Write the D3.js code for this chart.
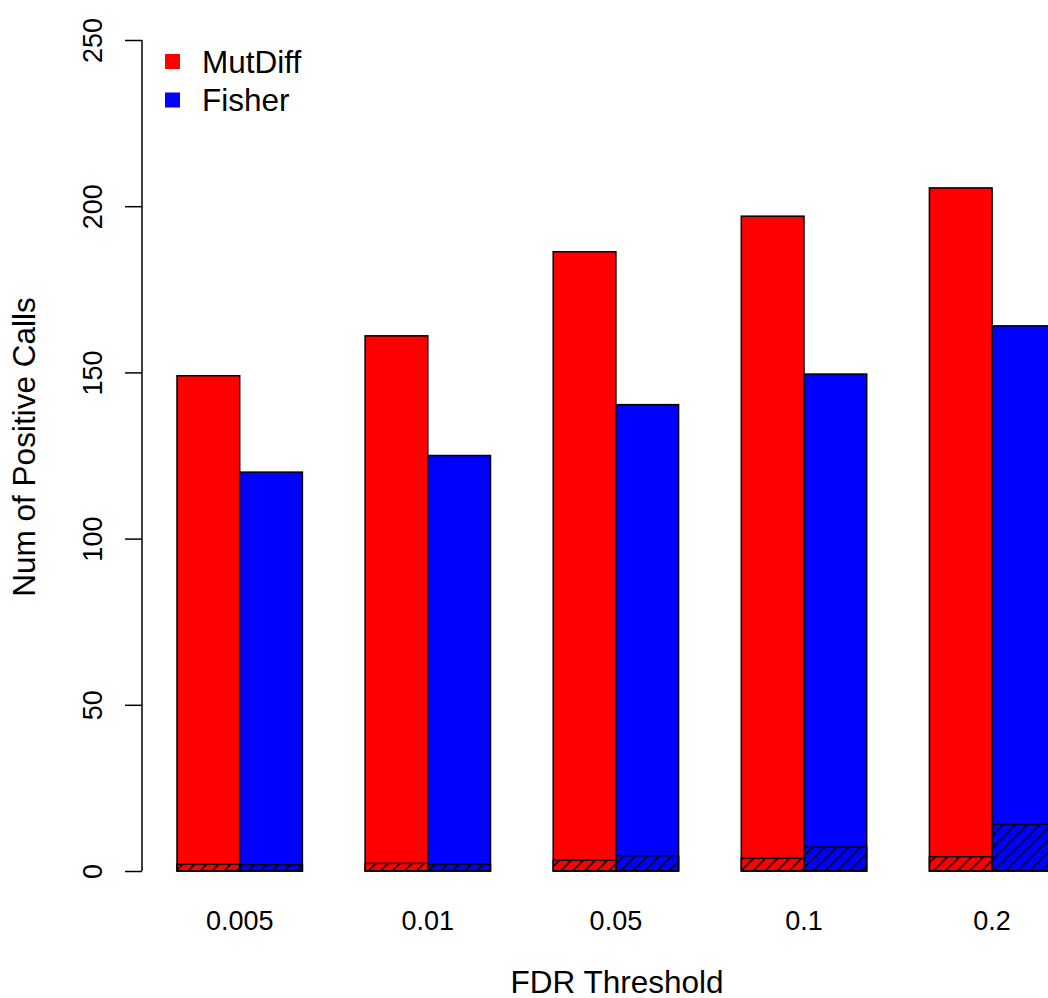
<!DOCTYPE html>
<html>
<head>
<meta charset="utf-8">
<script src="https://cdn.jsdelivr.net/npm/d3@7"></script>
<style>
  body { margin: 0; background: #fff; }
  svg { display: block; font-family: "Liberation Sans", Arial, sans-serif; }
</style>
</head>
<body>
<script>
const thresholds = ['0.005', '0.01', '0.05', '0.1', '0.2']
const mutDiff = [149, 161, 186.3, 197, 205.5]
const fisher = [120, 125, 140.3, 149.5, 164]
// hatched part at the foot of each bar
const mutDiffHatch = [2, 2.3, 3.2, 3.8, 4.3]
const fisherHatch = [1.9, 2, 4.6, 7.2, 14]
const series = ['MutDiff', 'Fisher']
const colors = ['#ff0000', '#0000ff']
const yTicks = [0, 50, 100, 150, 200, 250]

const WIDTH = 1048
const HEIGHT = 998

const svg = d3.select('body').append('svg')
  .attr('width', WIDTH)
  .attr('height', HEIGHT)

// hatch pattern
svg.append('defs').append('pattern')
  .attr('id', 'hatch')
  .attr('patternUnits', 'userSpaceOnUse')
  .attr('width', 8.5)
  .attr('height', 8.5)
  .attr('patternTransform', 'rotate(45)')
  .append('line')
  .attr('x1', 0).attr('y1', 0)
  .attr('x2', 0).attr('y2', 8.5)
  .attr('stroke', '#000')
  .attr('stroke-width', 3)

const y = d3.scaleLinear().domain([0, 250]).range([871, 40])
// bar units, like R barplot with space = c(0, 1)
const x = d3.scaleLinear().domain([0, 1]).range([114.3, 177])

const rows = thresholds.map((t, i) => ({
  t,
  vals: [mutDiff[i], fisher[i]],
  hatch: [mutDiffHatch[i], fisherHatch[i]],
  i
}))

const bars = []
rows.forEach(r => {
  r.vals.forEach((v, k) => {
    bars.push({ u: 1 + 3 * r.i + k, v, h: r.hatch[k], k })
  })
})

const g = svg.append('g')

g.selectAll('rect.bar')
  .data(bars)
  .enter()
  .append('rect')
  .attr('class', 'bar')
  .attr('x', d => x(d.u))
  .attr('width', d => x(d.u + 1) - x(d.u))
  .attr('y', d => y(d.v))
  .attr('height', d => y(0) - y(d.v))
  .attr('fill', d => colors[d.k])
  .attr('stroke', '#000')
  .attr('stroke-width', 1.5)

g.selectAll('rect.hatch')
  .data(bars)
  .enter()
  .append('rect')
  .attr('class', 'hatch')
  .attr('x', d => x(d.u))
  .attr('width', d => x(d.u + 1) - x(d.u))
  .attr('y', d => y(d.h))
  .attr('height', d => y(0) - y(d.h))
  .attr('fill', 'url(#hatch)')
  .attr('stroke', '#000')
  .attr('stroke-width', 1.5)

// y axis
const yAxis = svg.append('g')
  .attr('transform', 'translate(142,0)')
  .call(d3.axisLeft(y).tickValues(yTicks).tickSize(17).tickPadding(0).tickFormat(d3.format('d')))

yAxis.select('.domain').attr('stroke', '#000').attr('stroke-width', 1.5)
  .attr('d', `M0,${y(0)}V${y(250)}`)
yAxis.selectAll('.tick line').attr('stroke-width', 1.5)
yAxis.selectAll('.tick text')
  .attr('x', 0)
  .attr('y', 0)
  .attr('transform', 'translate(-40,0) rotate(-90)')
  .attr('text-anchor', 'middle')
  .attr('dy', 0)
  .attr('font-size', 27)
  .attr('font-family', '"Liberation Sans", Arial, sans-serif')
  .attr('fill', '#000')

// x labels
svg.selectAll('text.xlab')
  .data(rows)
  .enter()
  .append('text')
  .attr('class', 'xlab')
  .attr('x', d => x(2 + 3 * d.i))
  .attr('y', 930)
  .attr('text-anchor', 'middle')
  .attr('font-size', 27)
  .text(d => d.t)

svg.append('text')
  .attr('x', 617)
  .attr('y', 993)
  .attr('text-anchor', 'middle')
  .attr('font-size', 31.5)
  .text('FDR Threshold')

svg.append('text')
  .attr('transform', 'translate(35,447) rotate(-90)')
  .attr('text-anchor', 'middle')
  .attr('font-size', 31.5)
  .text('Num of Positive Calls')

// legend
const legend = svg.append('g')
  .attr('transform', 'translate(165,54)')

legend.selectAll('rect')
  .data(series)
  .enter()
  .append('rect')
  .attr('y', (d, i) => i * 38.5)
  .attr('width', 15)
  .attr('height', 15)
  .attr('fill', (d, i) => colors[i])

legend.selectAll('text')
  .data(series)
  .enter()
  .append('text')
  .attr('x', 37)
  .attr('y', (d, i) => i * 38.5 + 18.5)
  .attr('font-size', 31.5)
  .text(d => d)
</script>
</body>
</html>
